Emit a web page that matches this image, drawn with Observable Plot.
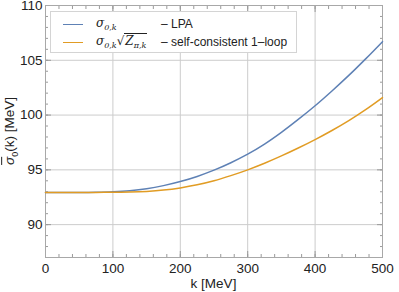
<!DOCTYPE html>
<html>
<head>
<meta charset="utf-8">
<script src="https://cdn.jsdelivr.net/npm/d3@7"></script>
<script src="https://cdn.jsdelivr.net/npm/@observablehq/plot@0.6"></script>
<style>
  body { margin: 0; background: #fff; }
  #wrap { position: relative; width: 399px; height: 292px; font-family: "Liberation Sans", Arial, sans-serif; color: #222; }
  #legend { position: absolute; left: 50px; top: 11px; width: 247px; height: 42px; border: 1px solid #d4d4d4; background: #fff; box-sizing: border-box; font-size: 12px; }
  .row { position: absolute; left: 0; height: 18px; width: 100%; }
  .sw { position: absolute; left: 12px; width: 20px; height: 0; border-top: 1.6px solid; top: 8px; }
  .nm { position: absolute; left: 45px; top: 0; font-style: italic; font-family: "DejaVu Serif", "Liberation Serif", serif; font-size: 12px; white-space: nowrap; }
  .ds { position: absolute; left: 110px; top: 1px; white-space: nowrap; }
  .nm sub { font-size: 8px; vertical-align: -3px; }
  .sq { border-top: 1px solid #222; padding: 0 1px; }
  #ylab { position: absolute; left: 11px; top: 131px; transform: translate(-50%, -50%) rotate(-90deg); white-space: nowrap; font-size: 13.5px; }
  #ylab sub { font-size: 9px; }
  #xlab { position: absolute; left: 213.5px; top: 283px; transform: translate(-50%, -50%); white-space: nowrap; font-size: 13.5px; }
</style>
</head>
<body>
<div id="wrap">
  <div id="chart"></div>
  <div id="ylab"><span style="text-decoration: overline;font-style:italic">σ</span><sub>0</sub>(k) [MeV]</div>
  <div id="xlab">k [MeV]</div>
  <div id="legend">
    <div class="row" style="top:4px"><div class="sw" style="border-color:#5e81b5"></div><div class="nm">σ<sub>0,k</sub></div><div class="ds">– LPA</div></div>
    <div class="row" style="top:22px"><div class="sw" style="border-color:#e19c24"></div><div class="nm">σ<sub>0,k</sub><span style="font-style:normal">√</span><span class="sq">Z<sub>π,k</sub></span></div><div class="ds">– self-consistent 1–loop</div></div>
  </div>
</div>
<script>
const k = [0, 25, 50, 75, 100, 125, 150, 175, 200, 225, 250, 275, 300, 325, 350, 375, 400, 425, 450, 475, 500];
const lpa = [92.93, 92.93, 92.93, 92.95, 93.0, 93.1, 93.28, 93.56, 93.93, 94.4, 94.97, 95.65, 96.43, 97.35, 98.42, 99.6, 100.85, 102.2, 103.62, 105.13, 106.7];
const oneLoop = [92.93, 92.93, 92.93, 92.94, 92.95, 92.97, 93.03, 93.15, 93.35, 93.63, 94.0, 94.47, 95.0, 95.6, 96.27, 96.99, 97.76, 98.59, 99.49, 100.49, 101.59];
const xTicks = [0, 100, 200, 300, 400, 500];
const yTicks = [90, 95, 100, 105, 110];
const xMinor = d3.range(0, 501, 20);
const yMinor = d3.range(87, 111, 1);

const data = k.map((v, i) => ({k: v, lpa: lpa[i], loop: oneLoop[i]}));

const tickColor = "#9a9a9a";
const chart = Plot.plot({
  width: 399, height: 292,
  marginLeft: 45, marginRight: 17, marginTop: 5, marginBottom: 35,
  x: {domain: [0, 500]},
  y: {domain: [87, 110]},
  style: {fontFamily: "'Liberation Sans', Arial, sans-serif", fontSize: "13.5px", color: "#222", background: "white"},
  marks: [
    Plot.gridX(xTicks, {stroke: "#cccccc", strokeOpacity: 1}),
    Plot.gridY(yTicks, {stroke: "#cccccc", strokeOpacity: 1}),
    Plot.axisX(xTicks, {anchor: "bottom", tickSize: 0, tickPadding: 6, label: null}),
    Plot.axisY(yTicks, {anchor: "left", tickSize: 0, tickPadding: 3, label: null}),
    Plot.axisX(xTicks, {anchor: "bottom", tickSize: -6, text: null, label: null, stroke: tickColor}),
    Plot.axisX(xTicks, {anchor: "top", tickSize: -6, text: null, label: null, stroke: tickColor}),
    Plot.axisX(xMinor, {anchor: "bottom", tickSize: -3, text: null, label: null, stroke: tickColor}),
    Plot.axisX(xMinor, {anchor: "top", tickSize: -3, text: null, label: null, stroke: tickColor}),
    Plot.axisY(yTicks, {anchor: "left", tickSize: -6, text: null, label: null, stroke: tickColor}),
    Plot.axisY(yTicks, {anchor: "right", tickSize: -6, text: null, label: null, stroke: tickColor}),
    Plot.axisY(yMinor, {anchor: "left", tickSize: -3, text: null, label: null, stroke: tickColor}),
    Plot.axisY(yMinor, {anchor: "right", tickSize: -3, text: null, label: null, stroke: tickColor}),
    Plot.frame({stroke: "#a8a8a8"}),
    Plot.line(data, {x: "k", y: "lpa", stroke: "#5e81b5", strokeWidth: 1.5, curve: "catmull-rom"}),
    Plot.line(data, {x: "k", y: "loop", stroke: "#e19c24", strokeWidth: 1.5, curve: "catmull-rom"})
  ]
});
document.getElementById("chart").appendChild(chart);
</script>
</body>
</html>
